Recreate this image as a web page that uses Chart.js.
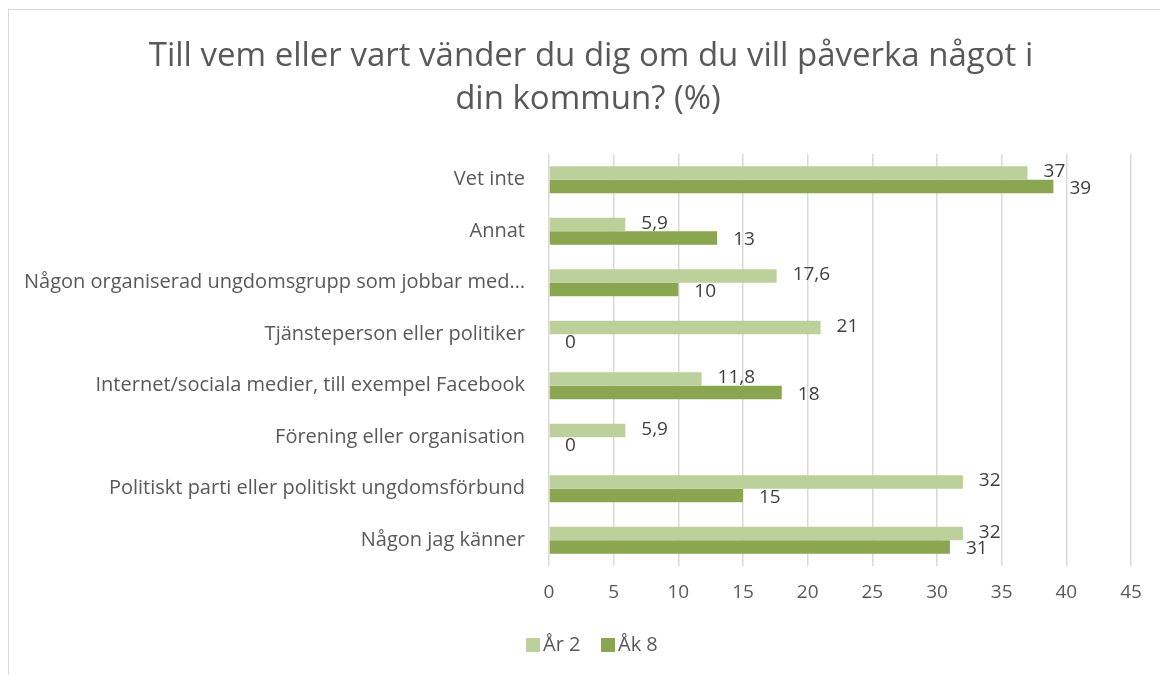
<!DOCTYPE html>
<html>
<head>
<meta charset="utf-8">
<script src="https://cdn.jsdelivr.net/npm/chart.js@4.4.1/dist/chart.umd.min.js"></script>
<style>
  body { margin: 0; background: #fff; }
  #frame {
    position: absolute; left: 8px; top: 9px; width: 1200px; height: 700px;
    border-left: 1.5px solid #d9d9d9; border-top: 1.5px solid #d9d9d9;
  }
  #wrap { position: absolute; left: 0; top: 0; width: 1160px; height: 675px; }
</style>
</head>
<body>
<div id="frame"></div>
<div id="wrap"><canvas id="chart"></canvas></div>
<script>
const titleLines = ["Till vem eller vart vänder du dig om du vill påverka något i", "din kommun? (%)"];
const categories = [
  "Vet inte",
  "Annat",
  "Någon organiserad ungdomsgrupp som jobbar med…",
  "Tjänsteperson eller politiker",
  "Internet/sociala medier, till exempel Facebook",
  "Förening eller organisation",
  "Politiskt parti eller politiskt ungdomsförbund",
  "Någon jag känner",
];
const seriesNames = ["År 2", "Åk 8"];
const ar2Values = [37, 5.9, 17.6, 21, 11.8, 5.9, 32, 32];
const ak8Values = [39, 13, 10, 0, 18, 0, 15, 31];
const xMin = 0;
const xMax = 45;
const xStep = 5;

const textGray = "#595959";
const font = "'Open Sans', 'Liberation Sans', sans-serif";

// title drawn by hand so it can sit off-centre like the original
const titlePlugin = {
  id: "titleText",
  afterDraw(chart) {
    const ctx = chart.ctx;
    ctx.save();
    ctx.fillStyle = textGray;
    ctx.font = "33px " + font;
    ctx.textAlign = "center";
    ctx.textBaseline = "middle";
    ctx.fillText(titleLines[0], 591, 57);
    ctx.fillText(titleLines[1], 588, 100);
    ctx.restore();
  },
};

// legend drawn by hand, Excel style spacing
const legendPlugin = {
  id: "legendBoxes",
  afterDraw(chart) {
    const ctx = chart.ctx;
    const starts = [526, 601];
    ctx.save();
    ctx.font = "20px " + font;
    ctx.textBaseline = "middle";
    chart.data.datasets.forEach((ds, i) => {
      ctx.fillStyle = ds.backgroundColor;
      ctx.fillRect(starts[i], 638, 14, 14);
      ctx.fillStyle = textGray;
      ctx.fillText(ds.label, starts[i] + 17, 645);
    });
    ctx.restore();
  },
};

// value labels at the end of each bar
const valueLabels = {
  id: "valueLabels",
  afterDatasetsDraw(chart) {
    const ctx = chart.ctx;
    ctx.save();
    ctx.fillStyle = "#404040";
    ctx.font = "19px " + font;
    ctx.textAlign = "left";
    ctx.textBaseline = "middle";
    chart.data.datasets.forEach((ds, i) => {
      chart.getDatasetMeta(i).data.forEach((bar, j) => {
        const txt = String(ds.data[j]).replace(".", ",");
        ctx.fillText(txt, bar.x + 16, bar.y + (i === 0 ? -1 : 2));
      });
    });
    ctx.restore();
  },
};

new Chart(document.getElementById("chart"), {
  type: "bar",
  data: {
    labels: categories,
    datasets: [
      {
        label: seriesNames[0],
        data: ar2Values,
        backgroundColor: "#bbd09a",
      },
      {
        label: seriesNames[1],
        data: ak8Values,
        backgroundColor: "#8aa650",
      },
    ],
  },
  options: {
    indexAxis: "y",
    responsive: true,
    maintainAspectRatio: false,
    animation: false,
    layout: { padding: { top: 154, right: 29, bottom: 62, left: 0 } },
    datasets: { bar: { categoryPercentage: 0.52, barPercentage: 1 } },
    scales: {
      x: {
        min: xMin,
        max: xMax,
        ticks: { stepSize: xStep, color: textGray, font: { family: font, size: 19 }, padding: 15 },
        grid: { color: "#d9d9d9", lineWidth: 1.5, drawTicks: false },
        border: { display: false },
        afterFit(scale) { scale.height = 47; },
      },
      y: {
        ticks: { color: textGray, font: { family: font, size: 20 }, padding: 16, autoSkip: false },
        grid: { display: false },
        border: { display: false },
        afterFit(scale) { scale.width = 549; },
      },
    },
    plugins: {
      title: { display: false },
      tooltip: { enabled: false },
      legend: { display: false },
    },
  },
  plugins: [titlePlugin, valueLabels, legendPlugin],
});
</script>
</body>
</html>
